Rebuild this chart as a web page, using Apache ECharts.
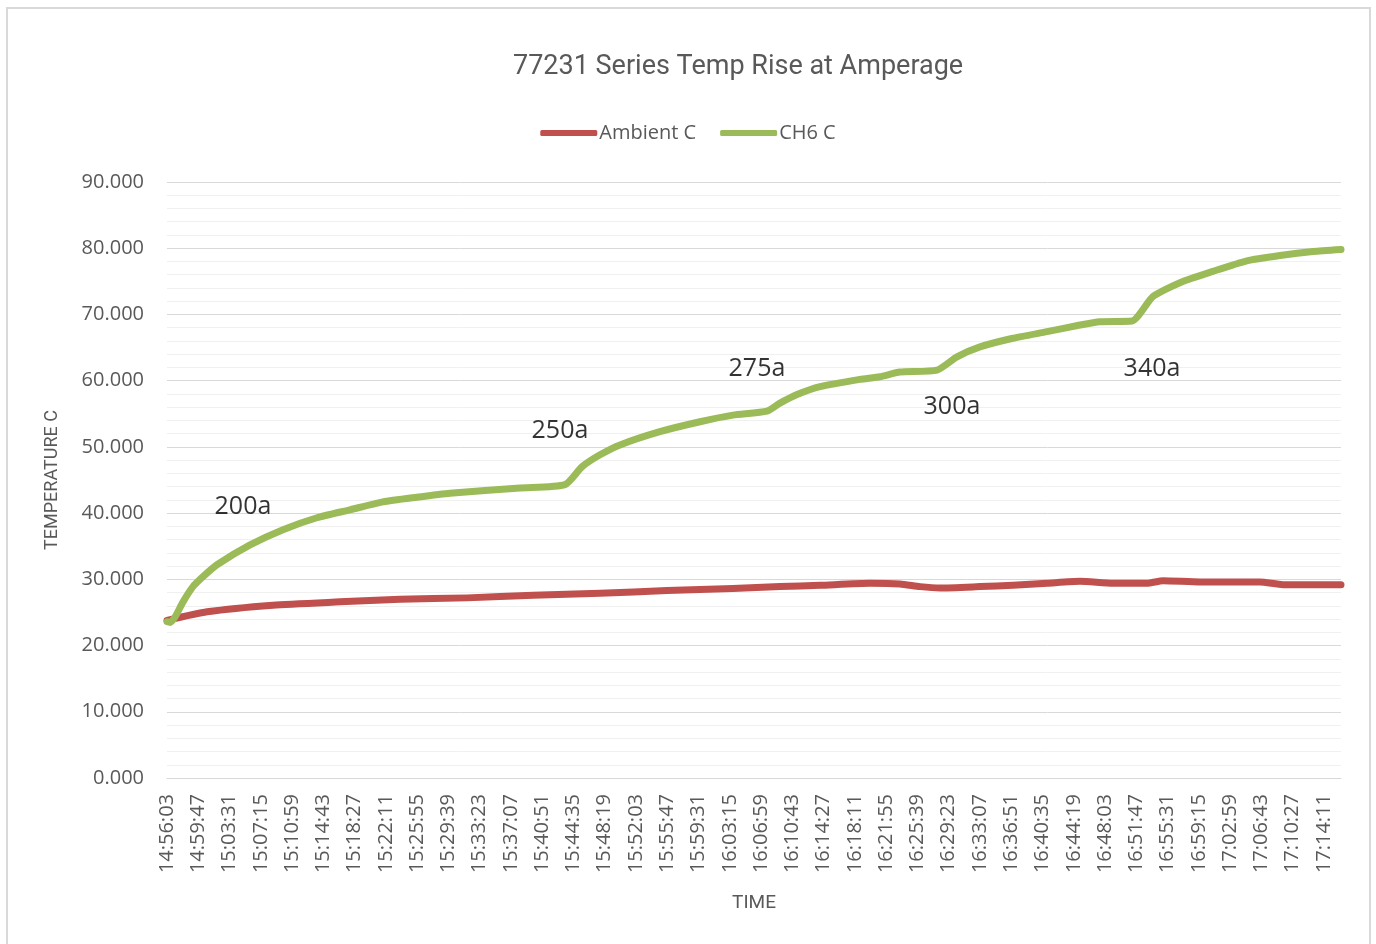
<!DOCTYPE html>
<html>
<head>
<meta charset="utf-8">
<title>77231 Series Temp Rise at Amperage</title>
<script src="https://cdn.jsdelivr.net/npm/echarts@6/dist/echarts.min.js"></script>
<style>
	html, body { margin: 0; padding: 0; background: #fff; }
	#frame { position: absolute; left: 6px; top: 7px; width: 1365px; height: 950px; border: 2px solid #d9d9d9; box-sizing: border-box; }
	#chart { width: 1376px; height: 944px; }
</style>
</head>
<body>
<div id="frame"></div>
<div id="chart"></div>
<script>
// x tick labels, one every 224 s starting at 14:56:03
var tickLabels = ['14:56:03', '14:59:47', '15:03:31', '15:07:15', '15:10:59', '15:14:43', '15:18:27',
	'15:22:11', '15:25:55', '15:29:39', '15:33:23', '15:37:07', '15:40:51', '15:44:35', '15:48:19',
	'15:52:03', '15:55:47', '15:59:31', '16:03:15', '16:06:59', '16:10:43', '16:14:27', '16:18:11',
	'16:21:55', '16:25:39', '16:29:23', '16:33:07', '16:36:51', '16:40:35', '16:44:19', '16:48:03',
	'16:51:47', '16:55:31', '16:59:15', '17:02:59', '17:06:43', '17:10:27', '17:14:11'];

// seconds since 14:56:03 and readings
var ch6Time = [0, 21, 57, 115, 186, 258, 358, 595, 831, 1074, 1311, 1547, 1791, 2027, 2529, 2851, 2973, 3102, 3245,
	3531, 3818, 4054, 4298, 4391, 4513, 4678, 4964, 5107, 5250, 5516, 5659, 5824, 6060, 6304, 6540,
	6683, 6912, 7063, 7256, 7492, 7736, 7973, 8209, 8410];
var ch6Temp = [23.6, 23.5, 24.3, 26.6, 28.9, 30.4, 32.2, 35.2, 37.5, 39.3, 40.5, 41.7, 42.4, 43.0, 43.8, 44.3, 47.0, 48.8, 50.3,
	52.3, 53.8, 54.8, 55.4, 56.6, 57.9, 59.1, 60.2, 60.6, 61.3, 61.6, 63.6, 65.1, 66.4, 67.4, 68.4,
	68.9, 69.0, 72.7, 74.8, 76.5, 78.1, 78.9, 79.5, 79.8];

var ambTime = [0, 287, 759, 1239, 1669, 2149, 2622, 3102, 3582, 4054, 4391, 4678, 5036, 5250, 5394, 5537,
	5824, 6060, 6304, 6540, 6776, 7020, 7135, 7400, 7830, 7994, 8410];
var ambTemp = [23.8, 25.1, 26.1, 26.6, 27.0, 27.2, 27.6, 27.9, 28.3, 28.6, 28.9, 29.1, 29.4, 29.3, 28.9, 28.7,
	28.9, 29.1, 29.4, 29.7, 29.4, 29.4, 29.8, 29.6, 29.6, 29.2, 29.2];

// current step annotations
var stepNames = ['200a', '250a', '275a', '300a', '340a'];
var stepTime = [544, 2815, 4226, 5623, 7056];
var stepTemp = [40.9, 52.4, 61.8, 56.0, 61.8];

function pairs(xs, ys) {
	return xs.map(function (x, i) { return [x, ys[i]]; });
}

var myChart = echarts.init(document.getElementById('chart'));
var gray = '#595959';

var option = {
	animation: false,
	title: {
		text: '77231 Series Temp Rise at Amperage',
		left: 508,
		top: 49,
		textStyle: { fontFamily: 'Roboto', fontSize: 27, fontWeight: 'normal', color: gray }
	},
	legend: {
		data: ['Ambient C', 'CH6 C'],
		top: 118,
		left: 'center',
		itemWidth: 57,
		itemHeight: 6,
		itemGap: 24,
		icon: 'roundRect',
		textStyle: { fontFamily: 'Open Sans', fontSize: 20, color: gray, padding: [0, 0, 0, -3] }
	},
	grid: { left: 167, right: 35, top: 182, bottom: 166 },
	xAxis: {
		type: 'value',
		min: 0,
		max: 8410,
		interval: 224,
		name: 'TIME',
		nameLocation: 'middle',
		nameGap: 116,
		nameTextStyle: { fontFamily: 'Roboto', fontSize: 19, color: gray },
		axisLine: { lineStyle: { color: '#d9d9d9', width: 1 } },
		axisTick: { show: false },
		splitLine: { show: false },
		axisLabel: {
			rotate: 90,
			margin: 16,
			showMaxLabel: false,
			fontFamily: 'Open Sans',
			fontSize: 20,
			color: gray,
			formatter: function (v) { return tickLabels[Math.round(v / 224)] || ''; }
		}
	},
	yAxis: {
		type: 'value',
		min: 0,
		max: 90,
		interval: 10,
		name: 'TEMPERATURE C',
		nameLocation: 'middle',
		nameGap: 106,
		nameTextStyle: { fontFamily: 'Roboto', fontSize: 18, color: gray },
		axisLine: { show: false },
		axisTick: { show: false },
		axisLabel: {
			margin: 23,
			fontFamily: 'Open Sans',
			fontSize: 20,
			color: gray,
			formatter: function (v) { return v.toFixed(3); }
		},
		splitLine: { lineStyle: { color: '#d9d9d9', width: 1 } },
		minorTick: { show: false, splitNumber: 5 },
		minorSplitLine: { show: true, lineStyle: { color: '#f0f0f0', width: 1 } }
	},
	series: [{
			name: 'Ambient C',
			type: 'line',
			showSymbol: false,
			symbol: 'none',
			smooth: 0.2,
			color: '#c0504d',
			lineStyle: { width: 7, cap: 'round', join: 'round' },
			data: pairs(ambTime, ambTemp)
		},
		{
			name: 'CH6 C',
			type: 'line',
			showSymbol: false,
			symbol: 'none',
			smooth: 0.2,
			color: '#9bbb59',
			lineStyle: { width: 7, cap: 'round', join: 'round' },
			data: pairs(ch6Time, ch6Temp)
		},
		{
			name: 'steps',
			type: 'scatter',
			silent: true,
			symbolSize: 2,
			itemStyle: { color: 'rgba(0,0,0,0)' },
			label: {
				show: true,
				position: 'inside',
				fontFamily: 'Open Sans',
				fontSize: 25,
				color: '#000',
				formatter: function (p) { return stepNames[p.dataIndex]; }
			},
			data: pairs(stepTime, stepTemp)
		}
	]
};

option && myChart.setOption(option);
</script>
</body>
</html>
